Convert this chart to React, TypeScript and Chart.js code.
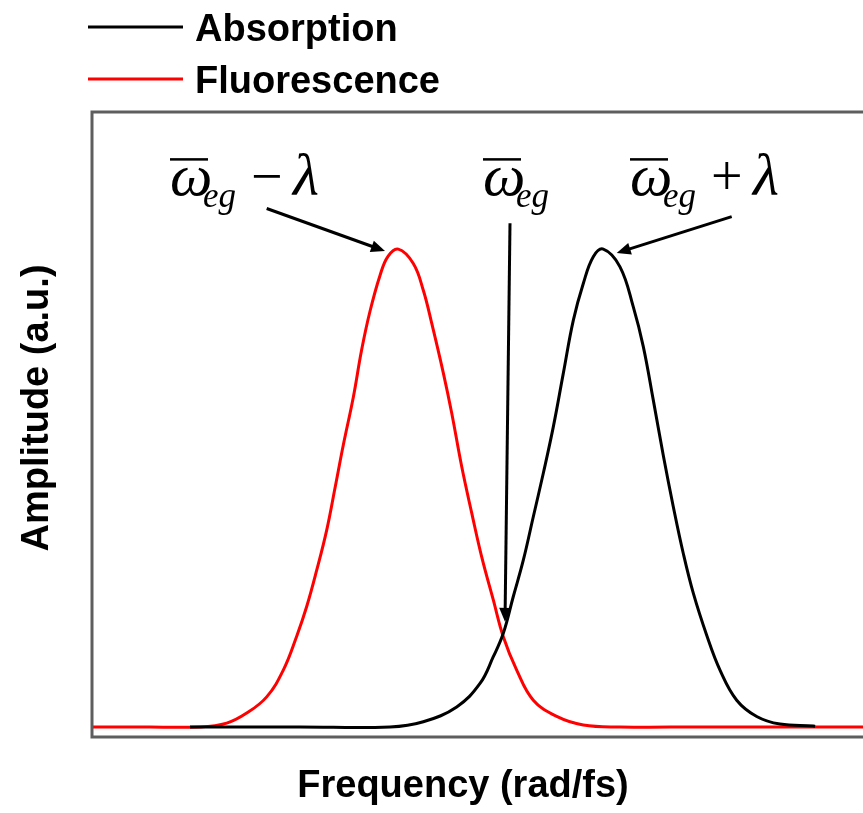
import { useEffect, useRef } from "react";
import { Chart, registerables } from "chart.js";

Chart.register(...registerables);

// Absorption band (frequency in rad/fs, amplitude in a.u.)
const absorptionX = [
  0.98, 2.08, 2.98, 3.313, 3.647, 3.88, 4.013, 4.113, 4.213, 4.313, 4.413, 4.513,
  4.613, 4.713, 4.813, 4.913, 5.013, 5.113, 5.28, 5.413, 5.513, 5.613, 5.713,
  5.813, 5.913, 6.013, 6.147, 6.28, 6.447, 6.647, 6.88, 7.213, 7.23,
];
const absorptionY = [
  0, 0, 0, 0.011, 0.042, 0.091, 0.147, 0.196, 0.273, 0.349, 0.44, 0.531, 0.628,
  0.74, 0.851, 0.928, 0.984, 1.0, 0.963, 0.879, 0.796, 0.684, 0.568, 0.461,
  0.363, 0.28, 0.192, 0.119, 0.056, 0.022, 0.006, 0.002, 0.001,
];

// Fluorescence band
const fluorescenceX = [
  0, 0.58, 1.08, 1.347, 1.547, 1.747, 1.913, 2.047, 2.147, 2.247, 2.347, 2.43,
  2.513, 2.613, 2.697, 2.78, 2.88, 2.96, 3.063, 3.213, 3.313, 3.397, 3.513,
  3.597, 3.697, 3.797, 3.897, 4.013, 4.113, 4.247, 4.413, 4.647, 4.913, 5.28,
  6.08, 7.71,
];
const fluorescenceY = [
  0, 0, 0, 0.008, 0.029, 0.063, 0.119, 0.19, 0.252, 0.328, 0.412, 0.5, 0.59,
  0.69, 0.79, 0.87, 0.945, 0.985, 1.0, 0.97, 0.914, 0.845, 0.741, 0.657,
  0.545, 0.448, 0.356, 0.266, 0.189, 0.119, 0.056, 0.022, 0.004, 0, 0, 0,
];

const seriesLabels = ["Absorption", "Fluorescence"];
const seriesColors = ["#000000", "#ff0000"];
const xTitle = "Frequency (rad/fs)";
const yTitle = "Amplitude (a.u.)";
const xRange = [0, 7.71];
const yRange = [-0.021, 1.287];

// Peak labels: ω̄_eg − λ, ω̄_eg, ω̄_eg + λ (anchor in data units)
const labelOps = ["\u2212", "", "+"];
const labelAnchors = [
  [0.78, 1.113],
  [3.91, 1.113],
  [5.38, 1.113],
];
const arrowFrom = [
  [1.747, 1.085],
  [4.18, 1.054],
  [6.397, 1.068],
];
const arrowTo = [
  [2.93, 0.996],
  [4.13, 0.22],
  [5.247, 0.992],
];

const SANS = '"Liberation Sans", Arial, sans-serif';
const SERIF = '"Liberation Serif", "Times New Roman", serif';

function drawArrow(ctx: CanvasRenderingContext2D, x1: number, y1: number, x2: number, y2: number) {
  const ang = Math.atan2(y2 - y1, x2 - x1);
  const head = 14;
  const half = 6;
  ctx.save();
  ctx.strokeStyle = "#000";
  ctx.fillStyle = "#000";
  ctx.lineWidth = 3;
  ctx.beginPath();
  ctx.moveTo(x1, y1);
  ctx.lineTo(x2 - Math.cos(ang) * head * 0.8, y2 - Math.sin(ang) * head * 0.8);
  ctx.stroke();
  ctx.beginPath();
  ctx.moveTo(x2, y2);
  ctx.lineTo(
    x2 - Math.cos(ang) * head - Math.sin(ang) * half,
    y2 - Math.sin(ang) * head + Math.cos(ang) * half
  );
  ctx.lineTo(
    x2 - Math.cos(ang) * head + Math.sin(ang) * half,
    y2 - Math.sin(ang) * head - Math.cos(ang) * half
  );
  ctx.closePath();
  ctx.fill();
  ctx.restore();
}

function drawMathLabel(ctx: CanvasRenderingContext2D, x: number, y: number, op: string) {
  ctx.save();
  ctx.fillStyle = "#000";
  ctx.textAlign = "left";
  ctx.textBaseline = "alphabetic";
  ctx.font = `italic 60px ${SERIF}`;
  ctx.fillText("\u03c9", x, y);
  // overbar
  ctx.fillRect(x, y - 37, 38, 2.5);
  ctx.font = `italic 35px ${SERIF}`;
  ctx.fillText("eg", x + 33, y + 12);
  if (op) {
    ctx.font = `56px ${SERIF}`;
    ctx.fillText(op, x + 81, y);
    ctx.font = `italic 60px ${SERIF}`;
    ctx.fillText("\u03bb", x + 123, y);
  }
  ctx.restore();
}

const decorations = {
  id: "decorations",
  afterDraw(chart: any) {
    const { ctx, chartArea, scales } = chart;
    const xs = scales.x;
    const ys = scales.y;
    ctx.save();

    // plot frame (left, top, bottom)
    ctx.strokeStyle = "#5e5e5e";
    ctx.lineWidth = 3;
    ctx.beginPath();
    ctx.moveTo(chartArea.right + 2, chartArea.top);
    ctx.lineTo(chartArea.left, chartArea.top);
    ctx.lineTo(chartArea.left, chartArea.bottom);
    ctx.lineTo(chartArea.right + 2, chartArea.bottom);
    ctx.stroke();

    // legend
    const legendRows = [27, 79];
    seriesLabels.forEach((label, i) => {
      ctx.strokeStyle = seriesColors[i];
      ctx.lineWidth = 3;
      ctx.beginPath();
      ctx.moveTo(88, legendRows[i]);
      ctx.lineTo(183, legendRows[i]);
      ctx.stroke();
      ctx.fillStyle = "#000";
      ctx.font = `bold 38px ${SANS}`;
      ctx.textAlign = "left";
      ctx.textBaseline = "alphabetic";
      ctx.fillText(label, 195, legendRows[i] + 14);
    });

    // axis titles
    ctx.fillStyle = "#000";
    ctx.font = `bold 38px ${SANS}`;
    ctx.textAlign = "center";
    ctx.textBaseline = "alphabetic";
    ctx.fillText(xTitle, 463, 797);
    ctx.save();
    ctx.translate(48, 408);
    ctx.rotate(-Math.PI / 2);
    ctx.fillText(yTitle, 0, 0);
    ctx.restore();

    // peak labels and arrows
    labelAnchors.forEach((a, i) => {
      drawMathLabel(ctx, xs.getPixelForValue(a[0]), ys.getPixelForValue(a[1]), labelOps[i]);
      drawArrow(
        ctx,
        xs.getPixelForValue(arrowFrom[i][0]),
        ys.getPixelForValue(arrowFrom[i][1]),
        xs.getPixelForValue(arrowTo[i][0]),
        ys.getPixelForValue(arrowTo[i][1])
      );
    });

    ctx.restore();
  },
};

export default function App() {
  const canvasRef = useRef<HTMLCanvasElement | null>(null);

  useEffect(() => {
    if (!canvasRef.current) return;
    const chart = new Chart(canvasRef.current, {
      type: "line",
      data: {
        datasets: [
          {
            label: seriesLabels[0],
            data: absorptionX.map((x, i) => ({ x, y: absorptionY[i] })),
            borderColor: seriesColors[0],
            borderWidth: 3,
            pointRadius: 0,
            fill: false,
            tension: 0.4,
          },
          {
            label: seriesLabels[1],
            data: fluorescenceX.map((x, i) => ({ x, y: fluorescenceY[i] })),
            borderColor: seriesColors[1],
            borderWidth: 3,
            pointRadius: 0,
            fill: false,
            tension: 0.4,
          },
        ],
      },
      options: {
        responsive: false,
        animation: false,
        devicePixelRatio: 1,
        layout: { padding: { left: 92, top: 112, right: 0, bottom: 76 } },
        scales: {
          x: { type: "linear", min: xRange[0], max: xRange[1], display: false },
          y: { type: "linear", min: yRange[0], max: yRange[1], display: false },
        },
        plugins: {
          legend: { display: false },
          tooltip: { enabled: false },
        },
      },
      plugins: [decorations],
    });
    return () => chart.destroy();
  }, []);

  return (
    <div style={{ position: "absolute", left: 0, top: 0, width: 863, height: 813, background: "#fff" }}>
      <canvas ref={canvasRef} width={863} height={813} style={{ display: "block" }} />
    </div>
  );
}
